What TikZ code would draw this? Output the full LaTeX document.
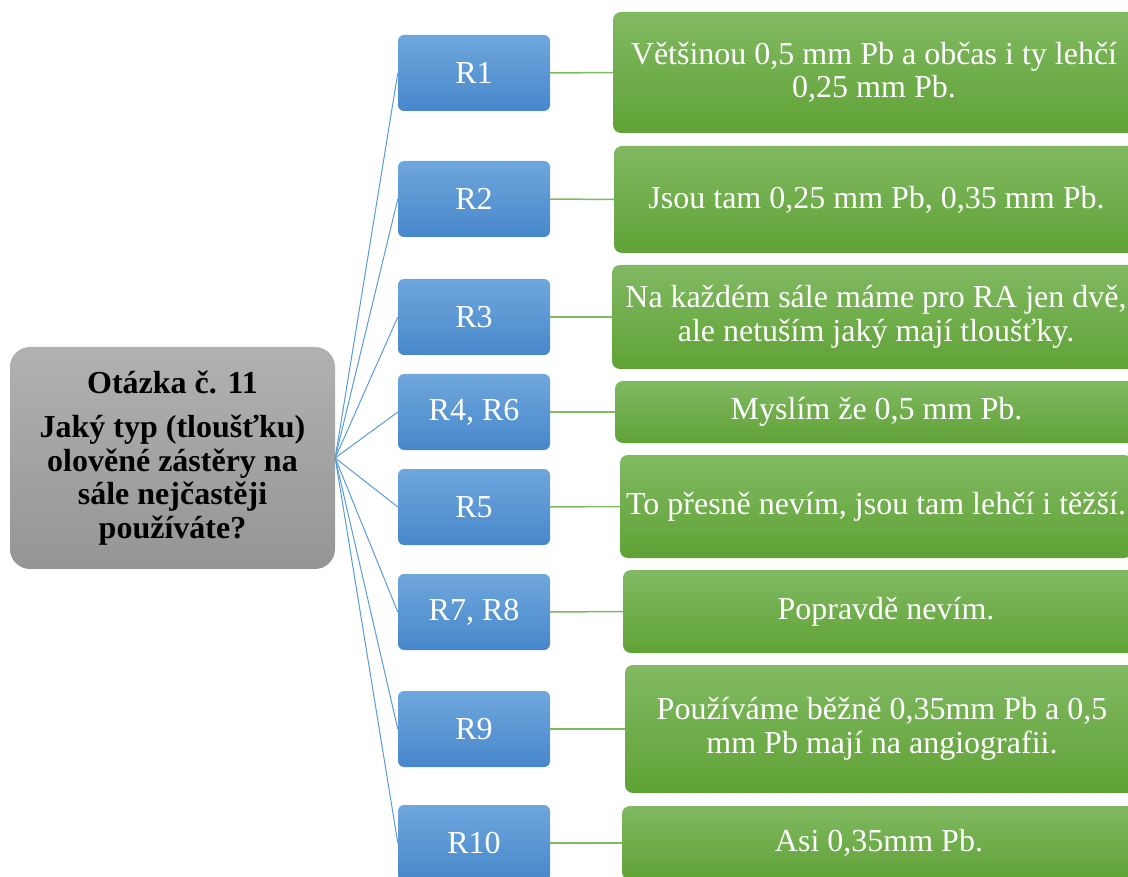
\documentclass[tikz,border=0pt]{standalone}
\usepackage{fontspec}
\setmainfont{Liberation Serif}
\definecolor{gray1}{HTML}{B1B1B1}
\definecolor{gray2}{HTML}{959595}
\definecolor{blue1}{HTML}{6FA7DD}
\definecolor{blue2}{HTML}{4787CA}
\definecolor{green1}{HTML}{81B962}
\definecolor{green2}{HTML}{60A236}
\definecolor{linkblue}{HTML}{5B9BD5}
\definecolor{linkgreen}{HTML}{80BA60}
\begin{document}
\begin{tikzpicture}[x=1pt,y=-1pt,
  base/.style={inner sep=0pt, align=center, font=\fontsize{32}{33.5}\selectfont},
  qbox/.style={base, rounded corners=20pt, top color=gray1, bottom color=gray2,
    font=\fontsize{32}{33.5}\selectfont\bfseries, minimum width=325pt, minimum height=222pt},
  rbox/.style={base, rounded corners=6pt, top color=blue1, bottom color=blue2,
    text=white, minimum width=152pt, minimum height=76pt},
  abox/.style={base, rounded corners=8pt, top color=green1, bottom color=green2, text=white},
  qlink/.style={draw=linkblue, line width=1pt},
  alink/.style={draw=linkgreen, line width=1.5pt}]
\useasboundingbox (0,0) rectangle (1128,877);
\clip (0,0) rectangle (1128,877);

% question
\node[qbox] (q) at (172.5,458) {Otázka č. 11\\[11pt]Jaký typ (tloušťku)\\olověné zástěry na\\sále nejčastěji\\používáte?};

% respondents
\node[rbox] (r1) at (474,73) {R1};
\node[rbox] (r2) at (474,199) {R2};
\node[rbox] (r3) at (474,317) {R3};
\node[rbox] (r4) at (474,412) {R4, R6};
\node[rbox] (r5) at (474,507) {R5};
\node[rbox] (r6) at (474,612) {R7, R8};
\node[rbox] (r7) at (474,729) {R9};
\node[rbox] (r8) at (474,843) {R10};

% answers
\node[abox, minimum width=522pt, minimum height=121pt] (a1) at (874,72.5) {Většinou 0,5 mm Pb a občas i ty lehčí\\0,25 mm Pb.};
\node[abox, minimum width=525pt, minimum height=107pt] (a2) at (876.5,199.5) {Jsou tam 0,25 mm Pb, 0,35 mm Pb.};
\node[abox, minimum width=528pt, minimum height=104pt] (a3) at (876,317) {Na každém sále máme pro RA jen dvě,\\ale netuším jaký mají tloušťky.};
\node[abox, minimum width=523pt, minimum height=62pt] (a4) at (876.5,412) {Myslím že 0,5 mm Pb.};
\node[abox, minimum width=512pt, minimum height=103pt] (a5) at (876,506.5) {To přesně nevím, jsou tam lehčí i těžší.};
\node[abox, minimum width=526pt, minimum height=83pt] (a6) at (886,611.5) {Popravdě nevím.};
\node[abox, minimum width=514pt, minimum height=128pt] (a7) at (882,729) {Používáme běžně 0,35mm Pb a 0,5\\mm Pb mají na angiografii.};
\node[abox, minimum width=514pt, minimum height=74pt] (a8) at (879,843) {Asi 0,35mm Pb.};

% connectors
\foreach \n in {1,...,8}{
  \draw[qlink] (q.east) -- (r\n.west);
  \draw[alink] (r\n.east) -- (a\n.west);
}
\end{tikzpicture}
\end{document}
